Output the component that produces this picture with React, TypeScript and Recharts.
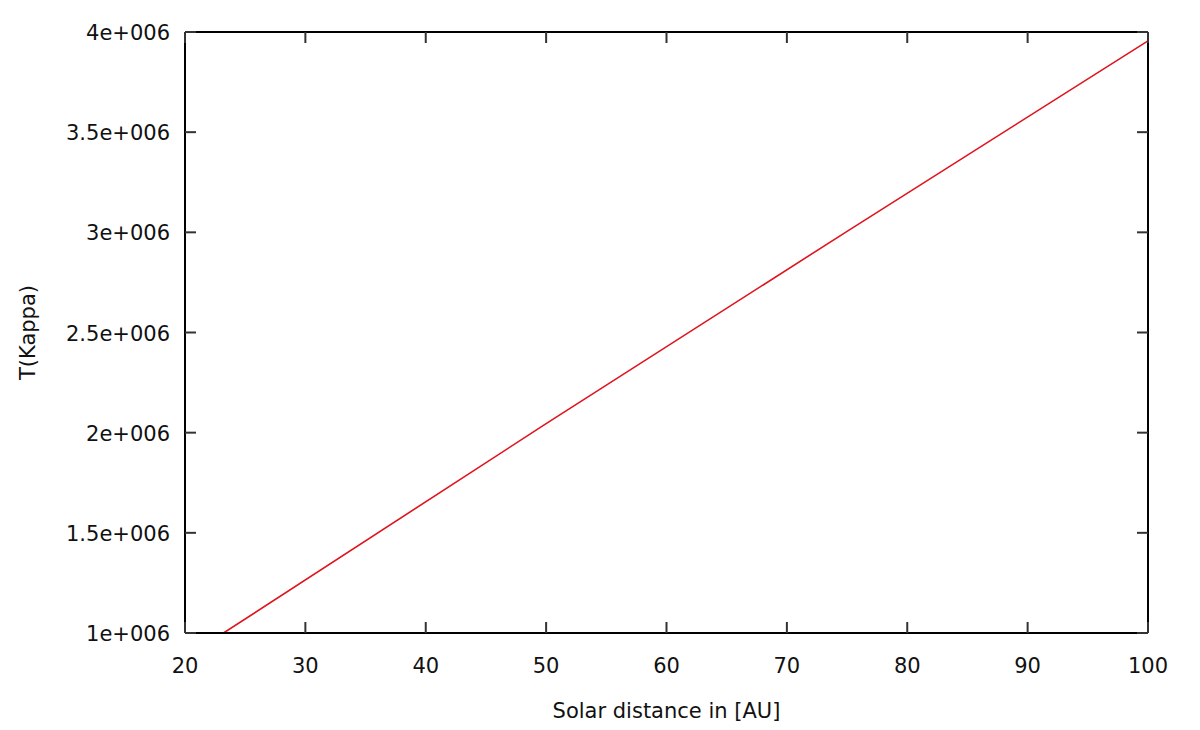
import { LineChart, Line, XAxis, YAxis } from "recharts";

// solar distance [AU] vs T(Kappa)
const distance = [23.2, 50, 75, 100];
const tKappa = [1000000, 2045000, 3005000, 3956000];

const xTicks = [20, 30, 40, 50, 60, 70, 80, 90, 100];
const yTicks = [1000000, 1500000, 2000000, 2500000, 3000000, 3500000, 4000000];
const yTickLabels = ["1e+006", "1.5e+006", "2e+006", "2.5e+006", "3e+006", "3.5e+006", "4e+006"];

const data = distance.map((d, i) => ({ x: d, y: tKappa[i] }));

const FONT = "'DejaVu Sans', Verdana, sans-serif";
const FONT_SIZE = 21;
const TICK_LEN = 11;
const TICK_COLOR = "#333";

/* eslint-disable @typescript-eslint/no-explicit-any */
function BottomTick({ x, y, payload }: any) {
  return (
    <g>
      <line x1={x} y1={y} x2={x} y2={y - TICK_LEN} stroke={TICK_COLOR} strokeWidth={2} />
      <text x={x} y={y + 40} textAnchor="middle" fontFamily={FONT} fontSize={FONT_SIZE} fill="#111">
        {payload.value}
      </text>
    </g>
  );
}

function TopTick({ x, y }: any) {
  return <line x1={x} y1={y} x2={x} y2={y + TICK_LEN} stroke={TICK_COLOR} strokeWidth={2} />;
}

function LeftTick({ x, y, payload }: any) {
  const idx = yTicks.indexOf(payload.value);
  return (
    <g>
      <line x1={x} y1={y} x2={x + TICK_LEN} y2={y} stroke={TICK_COLOR} strokeWidth={2} />
      <text x={x - 15} y={y + 8} textAnchor="end" fontFamily={FONT} fontSize={FONT_SIZE} fill="#111">
        {yTickLabels[idx]}
      </text>
    </g>
  );
}

function RightTick({ x, y }: any) {
  return <line x1={x} y1={y} x2={x - TICK_LEN} y2={y} stroke={TICK_COLOR} strokeWidth={2} />;
}

export default function App() {
  return (
    <div style={{ position: "absolute", left: 0, top: 0, background: "#fff" }}>
      <LineChart
        width={1200}
        height={730}
        data={data}
        margin={{ top: 31, right: 51, bottom: 0, left: 0 }}
      >
        <XAxis
          xAxisId="bottom"
          dataKey="x"
          type="number"
          domain={[20, 100]}
          ticks={xTicks}
          interval={0}
          allowDataOverflow
          height={97}
          tickSize={0}
          tickMargin={0}
          tick={<BottomTick />}
          axisLine={{ stroke: "#000", strokeWidth: 2 }}
          label={{
            value: "Solar distance in [AU]",
            position: "insideBottom",
            offset: 12,
            style: { fontFamily: FONT, fontSize: FONT_SIZE, fill: "#111" },
          }}
        />
        <XAxis
          xAxisId="top"
          orientation="top"
          dataKey="x"
          type="number"
          domain={[20, 100]}
          ticks={xTicks}
          interval={0}
          allowDataOverflow
          height={1}
          tickSize={0}
          tickMargin={0}
          tick={<TopTick />}
          axisLine={{ stroke: "#000", strokeWidth: 2 }}
        />
        <YAxis
          yAxisId="left"
          type="number"
          domain={[1000000, 4000000]}
          ticks={yTicks}
          interval={0}
          allowDataOverflow
          width={185}
          tickSize={0}
          tickMargin={0}
          tick={<LeftTick />}
          axisLine={{ stroke: "#000", strokeWidth: 2 }}
          label={{
            value: "T(Kappa)",
            angle: -90,
            position: "insideLeft",
            offset: 28,
            style: { fontFamily: FONT, fontSize: FONT_SIZE, fill: "#111", textAnchor: "middle" },
          }}
        />
        <YAxis
          yAxisId="right"
          orientation="right"
          type="number"
          domain={[1000000, 4000000]}
          ticks={yTicks}
          interval={0}
          allowDataOverflow
          width={1}
          tickSize={0}
          tickMargin={0}
          tick={<RightTick />}
          axisLine={{ stroke: "#000", strokeWidth: 2 }}
        />
        <Line
          xAxisId="bottom"
          yAxisId="left"
          type="linear"
          dataKey="y"
          stroke="#e0141e"
          strokeWidth={1.6}
          dot={false}
          activeDot={false}
          isAnimationActive={false}
        />
      </LineChart>
    </div>
  );
}
